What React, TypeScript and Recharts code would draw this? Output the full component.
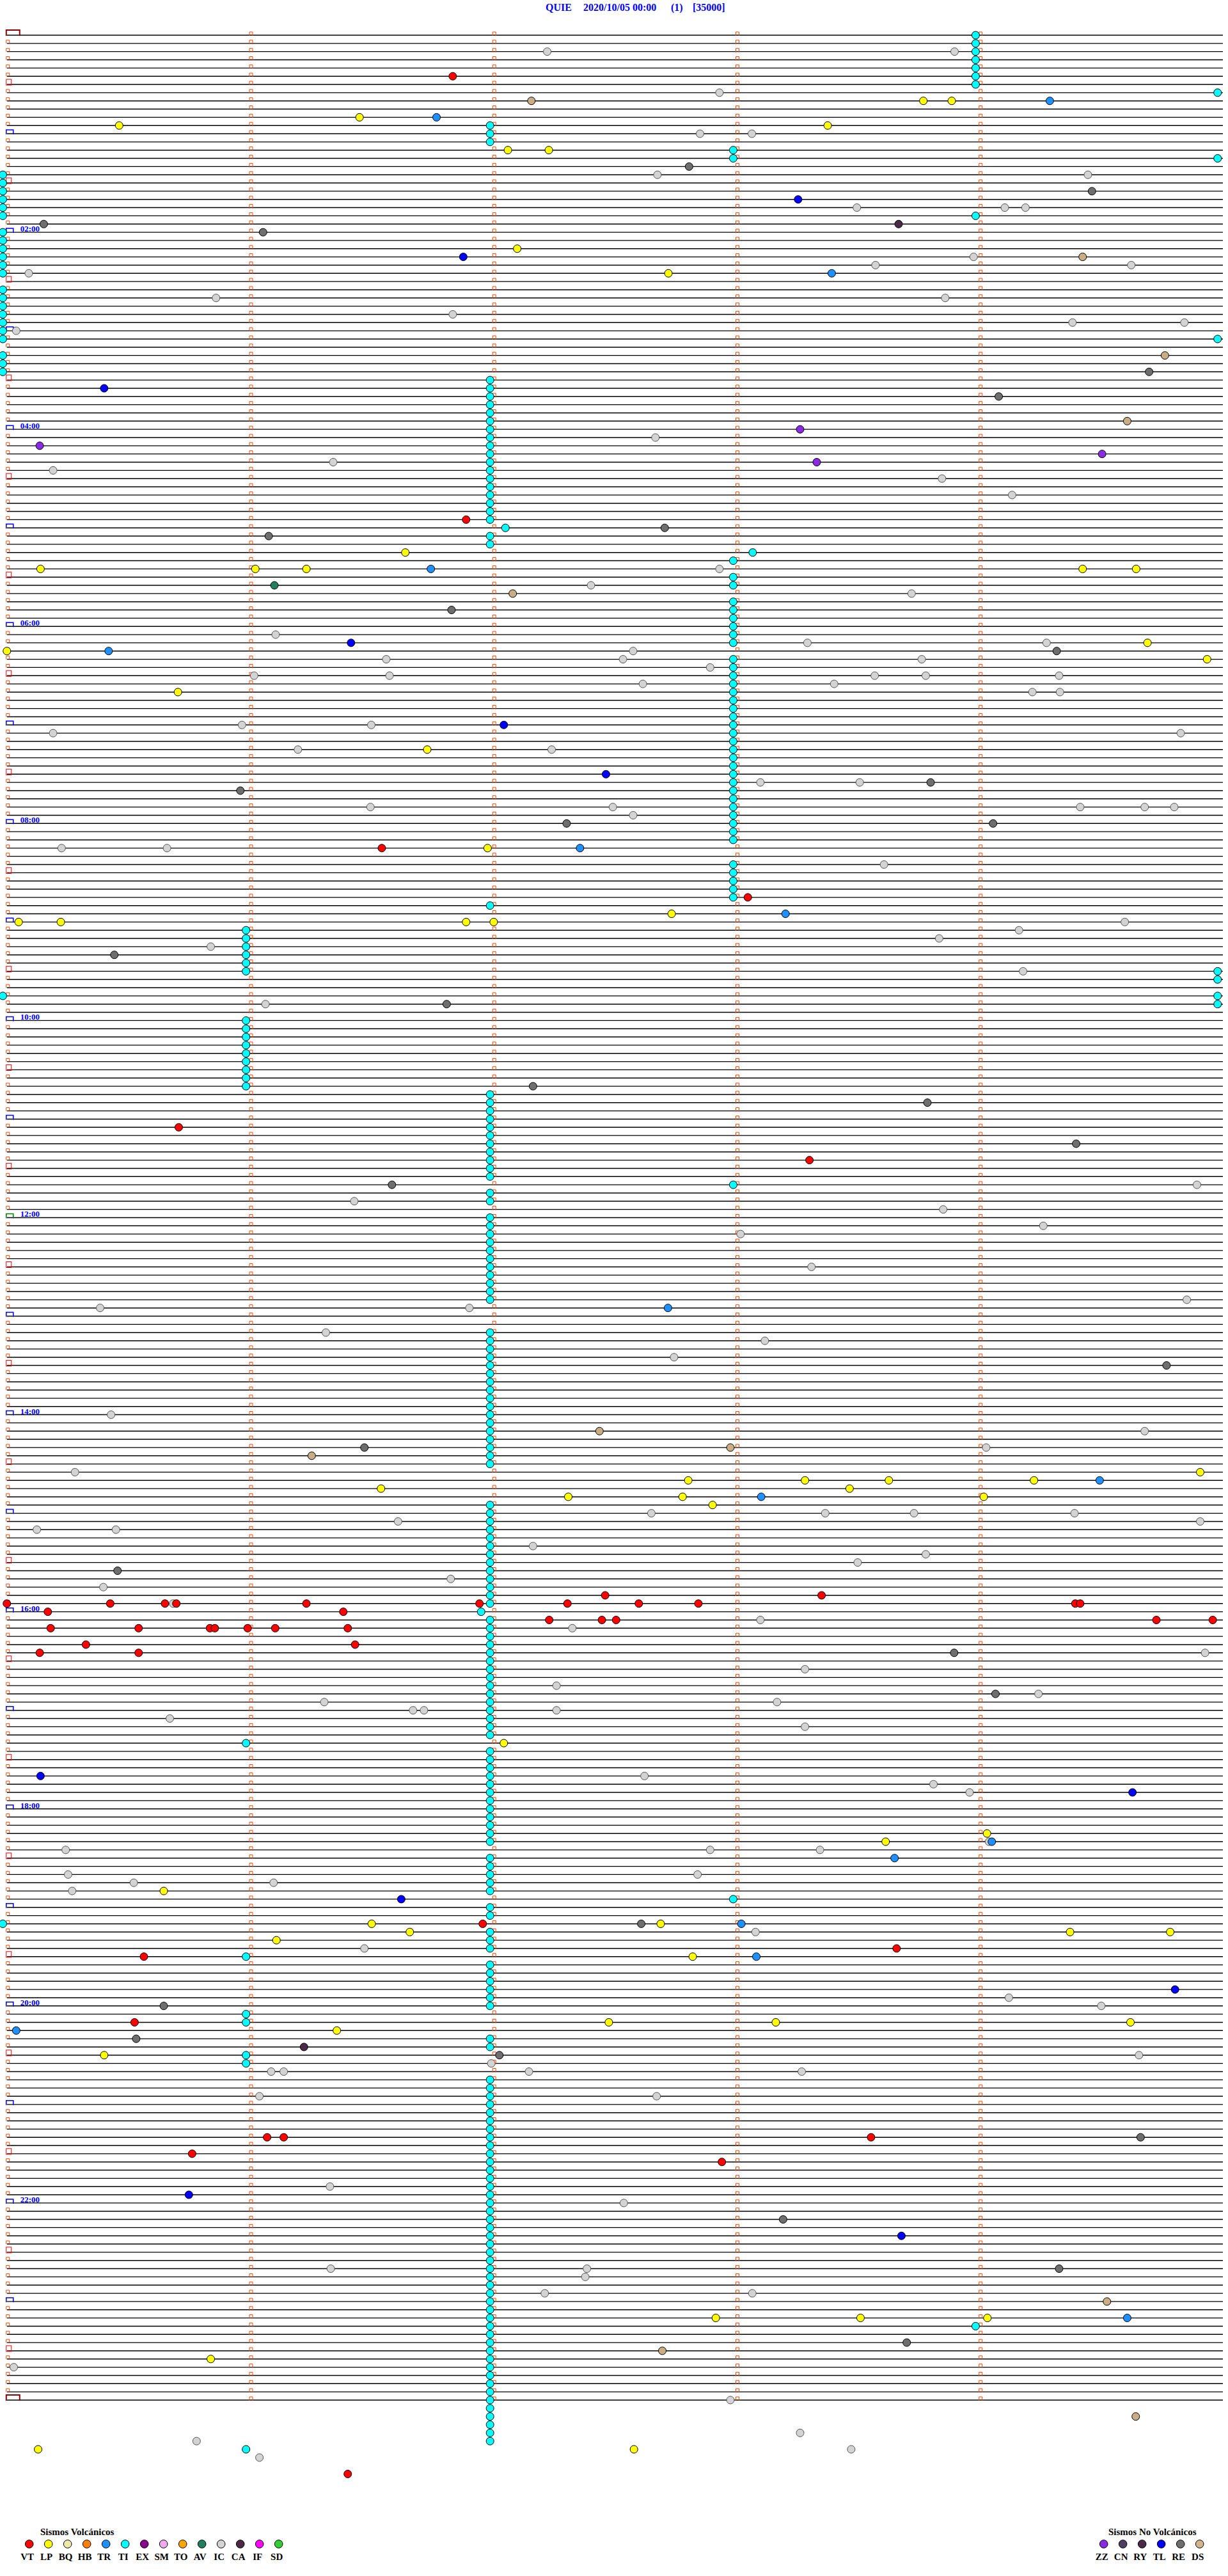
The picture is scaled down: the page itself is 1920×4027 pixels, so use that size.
import { ReferenceLine, Scatter, ScatterChart, XAxis, YAxis } from 'recharts';

// [trace row (5 min each), seconds into the row]
type Pt = [number, number];

const TRACE_ROWS = 289;
const rows = Array.from({ length: TRACE_ROWS }, (_, i) => i);
const minuteMarks = [60, 120, 180, 240];

const hourLabels = [
  { row: 24, text: '02:00' },
  { row: 48, text: '04:00' },
  { row: 72, text: '06:00' },
  { row: 96, text: '08:00' },
  { row: 120, text: '10:00' },
  { row: 144, text: '12:00' },
  { row: 168, text: '14:00' },
  { row: 192, text: '16:00' },
  { row: 216, text: '18:00' },
  { row: 240, text: '20:00' },
  { row: 264, text: '22:00' },
];

const titleParts = [
  { text: 'QUIE', x: 853 },
  { text: '2020/10/05 00:00', x: 912 },
  { text: '(1)', x: 1049 },
  { text: '[35000]', x: 1083 },
];

const volcanicLegend = [
  { code: 'VT', color: '#ff0000' },
  { code: 'LP', color: '#ffff00' },
  { code: 'BQ', color: '#eee8aa' },
  { code: 'HB', color: '#ff8000' },
  { code: 'TR', color: '#1e90ff' },
  { code: 'TI', color: '#00ffff' },
  { code: 'EX', color: '#8b008b' },
  { code: 'SM', color: '#eeaaee' },
  { code: 'TO', color: '#ffa500' },
  { code: 'AV', color: '#1f7f5f' },
  { code: 'IC', color: '#d3d3d3' },
  { code: 'CA', color: '#4a2a48' },
  { code: 'IF', color: '#ff00ff' },
  { code: 'SD', color: '#32cd32' },
];

const nonVolcanicLegend = [
  { code: 'ZZ', color: '#8a2be2' },
  { code: 'CN', color: '#4b3f63' },
  { code: 'RY', color: '#4a2a48' },
  { code: 'TL', color: '#0000ff' },
  { code: 'RE', color: '#6e6e6e' },
  { code: 'DS', color: '#d2b48c' },
];

// tremor (TI) chains, by second within the row
const tiColumns: { sec: number; rows: number[] }[] = [
  { sec: 239, rows: [0, 1, 2, 3, 4, 5, 6, 22, 279] },
  { sec: 298.7, rows: [7, 15, 37, 114, 115, 117, 118] },
  {
    sec: -1,
    rows: [17, 18, 19, 20, 21, 22, 24, 25, 26, 27, 28, 29, 31, 32, 33, 34, 35, 36, 37, 39, 40, 41, 117, 230],
  },
  {
    sec: 179.2,
    rows: [
      14, 15, 64, 66, 67, 69, 70, 71, 72, 73, 74, 76, 77, 78, 79, 80, 81, 82, 83, 84, 85, 86, 87, 88, 89, 90,
      91, 92, 93, 94, 95, 96, 97, 98, 101, 102, 103, 104, 105, 140, 227,
    ],
  },
  { sec: 184, rows: [63] },
  {
    sec: 59,
    rows: [109, 110, 111, 112, 113, 114, 120, 121, 122, 123, 124, 125, 126, 127, 128, 208, 234, 241, 242, 246, 247, 294],
  },
  { sec: 123, rows: [60] },
  { sec: 117, rows: [192] },
  {
    sec: 119.2,
    rows: [
      11, 12, 13, 42, 43, 44, 45, 46, 47, 48, 49, 50, 51, 52, 53, 54, 55, 56, 57, 58, 59, 61, 62, 106, 129, 130,
      131, 132, 133, 134, 135, 136, 137, 138, 139, 141, 142, 144, 145, 146, 147, 148, 149, 150, 151, 152, 153,
      154, 158, 159, 160, 161, 162, 163, 164, 165, 166, 167, 168, 169, 170, 171, 172, 173, 174, 179, 180, 181,
      182, 183, 184, 185, 186, 187, 188, 189, 190, 191, 193, 194, 195, 196, 197, 198, 199, 200, 201, 202, 203,
      204, 205, 206, 207, 209, 210, 211, 212, 213, 214, 215, 216, 217, 218, 219, 220, 222, 223, 224, 225, 226,
      228, 229, 231, 232, 233, 235, 236, 237, 238, 239, 240, 244, 245, 249, 250, 251, 252, 253, 254, 255, 256,
      257, 258, 259, 260, 261, 262, 263, 264, 265, 266, 267, 268, 269, 270, 271, 272, 273, 274, 275, 276, 277,
      278, 279, 280, 281, 282, 283, 284, 285, 286, 287, 288, 289, 290, 291, 292, 293,
    ],
  },
];

const icEvents: Pt[] = [
  [2, 133.3], [2, 233.8], [7, 175.8], [12, 171], [12, 183.8], [17, 160.5], [17, 266.7], [21, 209.7],
  [21, 246.2], [21, 251.3], [27, 238.5], [28, 214.3], [28, 277.4], [29, 5.4], [32, 51.6], [32, 231.5],
  [34, 110], [35, 262.9], [35, 290.5], [36, 2.3], [49, 160], [52, 80.5], [53, 11.4], [54, 230.7], [56, 248],
  [65, 175.8], [67, 144.1], [68, 223.2], [73, 66.3], [74, 197.5], [74, 256.5], [75, 154.5], [76, 93.6],
  [76, 152], [76, 225.7], [77, 173.5], [78, 61], [78, 94.4], [78, 214.1], [78, 226.7], [78, 259.6],
  [79, 156.9], [79, 204.1], [80, 253], [80, 259.8], [84, 58], [84, 89.9], [85, 11.4], [85, 289.6],
  [87, 71.8], [87, 134.4], [91, 185.9], [91, 210.4], [94, 89.7], [94, 149.5], [94, 264.8], [94, 280.7],
  [94, 288], [95, 154.5], [99, 13.5], [99, 39.5], [101, 216.4], [108, 275.8], [109, 249.7], [110, 230],
  [111, 50.3], [114, 250.7], [118, 63.8], [140, 293.6], [142, 85.7], [143, 231], [145, 255.7], [146, 181],
  [150, 198.5], [154, 291.1], [155, 23], [155, 114.1], [158, 78.7], [159, 187], [161, 164.6], [168, 25.7],
  [170, 280.7], [172, 241.6], [175, 16.8], [180, 159], [180, 201.9], [180, 223.8], [180, 263.4], [181, 96.5],
  [181, 294.4], [182, 7.4], [182, 26.9], [184, 129.8], [185, 226.7], [186, 209.9], [188, 109.5], [189, 23.8],
  [191, 41], [193, 185.9], [194, 139.5], [197, 295.6], [199, 196.9], [201, 135.6], [202, 254.5], [203, 78.3],
  [203, 190], [204, 100.2], [204, 102.9], [204, 135.6], [205, 40.2], [206, 196.9], [212, 157.3], [213, 228.6],
  [214, 237.5], [220, 242.3], [221, 14.5], [221, 173.5], [221, 200.6], [224, 15.1], [224, 170.4], [225, 31.3],
  [225, 65.8], [226, 16.1], [231, 184.7], [233, 88.2], [239, 247.2], [240, 270], [246, 279.3], [247, 119.5],
  [248, 65.2], [248, 68.3], [248, 128.8], [248, 196.1], [251, 62.3], [251, 160.3], [262, 79.7], [264, 152.2],
  [272, 79.9], [272, 143.1], [273, 142.7], [275, 132.7], [275, 183.9], [284, 1.7], [288, 178.5], [292, 195.7],
  [293, 46.8], [294, 208.3], [295, 62.3],
];

const vtEvents: Pt[] = [
  [5, 110], [59, 113.3], [99, 92.5], [105, 182.8], [133, 42.4], [137, 198], [190, 147.6], [190, 201],
  [191, 0], [191, 25.5], [191, 39], [191, 41.8], [191, 73.9], [191, 116.6], [191, 138.3], [191, 155.9],
  [191, 170.6], [191, 263.6], [191, 264.8], [192, 10.1], [192, 83], [193, 133.8], [193, 146.8], [193, 150.3],
  [193, 283.6], [193, 297.5], [194, 10.8], [194, 32.5], [194, 50.1], [194, 51.3], [194, 59.4], [194, 66.2],
  [194, 84.1], [196, 19.5], [196, 85.9], [197, 8.1], [197, 32.5], [230, 117.4], [233, 219.5], [234, 33.8],
  [242, 31.5], [256, 64.2], [256, 68.3], [256, 213.2], [258, 45.7], [259, 176.4], [297, 84.1],
];

const lpEvents: Pt[] = [
  [8, 226.1], [8, 233.1], [10, 87], [11, 27.7], [11, 202.5], [14, 123.6], [14, 133.7], [26, 125.9],
  [29, 163.2], [63, 98.3], [65, 8.3], [65, 61.3], [65, 73.9], [65, 265.4], [65, 278.6], [74, 281.4],
  [75, 0], [76, 296.1], [80, 42.2], [87, 103.7], [99, 118.6], [107, 164], [108, 2.9], [108, 13.3],
  [108, 113.3], [108, 120.1], [175, 294.4], [176, 168.1], [176, 196.9], [176, 217.6], [176, 253.4],
  [177, 92.3], [177, 207.9], [178, 138.5], [178, 166.7], [178, 241], [179, 174.1], [208, 122.6], [219, 241.8],
  [220, 216.8], [226, 38.7], [230, 90], [230, 161.3], [231, 99.4], [231, 262.3], [231, 287], [232, 66.5],
  [234, 169.2], [242, 148.5], [242, 189.7], [242, 277.2], [243, 81.4], [246, 24], [278, 174.9], [278, 210.6],
  [278, 241.9], [283, 50.3], [294, 7.7], [294, 154.7],
];

const trEvents: Pt[] = [
  [8, 257.3], [10, 106], [29, 203.5], [65, 104.6], [75, 25.1], [99, 141.4], [107, 192.1], [155, 163.1],
  [176, 269.6], [178, 186.1], [220, 243], [222, 219], [230, 181.2], [234, 184.9], [243, 2.3], [278, 276.4],
];

const tlEvents: Pt[] = [
  [20, 195.2], [27, 112.6], [43, 24], [74, 84.9], [84, 122.6], [90, 147.8], [212, 8.3], [214, 277.7],
  [227, 97.3], [238, 288.2], [263, 44.9], [268, 220.7],
];

const reEvents: Pt[] = [
  [16, 168.3], [19, 267.7], [23, 9.1], [24, 63.2], [41, 281.8], [44, 244.7], [60, 162.3], [61, 64.6],
  [70, 109.7], [75, 259], [91, 227.9], [92, 57.6], [96, 138.1], [96, 243.3], [112, 26.5], [118, 108.5],
  [128, 129.8], [130, 227.1], [135, 263.8], [140, 95], [162, 286.1], [172, 88.2], [187, 27.3], [197, 233.7],
  [202, 243.9], [230, 156.5], [240, 38.7], [244, 31.9], [246, 121.5], [256, 279.7], [266, 191.5],
  [272, 259.6], [281, 222],
];

const zzEvents: Pt[] = [[48, 195.7], [50, 8.1], [51, 270.2], [52, 199.8]];

const dsEvents: Pt[] = [
  [8, 129.4], [27, 265.4], [39, 285.7], [47, 276.4], [68, 124.8], [170, 146.2], [172, 178.5], [173, 75.2],
  [276, 271.4], [282, 161.7], [290, 278.5],
];

const caEvents: Pt[] = [[23, 220], [245, 73.3]];
const avEvents: Pt[] = [[67, 66]];

const toPoints = (list: Pt[]) => list.map(([row, sec]) => ({ x: sec, y: row }));

const tiEvents: Pt[] = tiColumns.flatMap((col) => col.rows.map((row) => [row, col.sec] as Pt));

const eventSeries = [
  { code: 'IC', fill: '#d3d3d3', stroke: '#555', data: icEvents },
  { code: 'TI', fill: '#00ffff', stroke: '#000', data: tiEvents },
  { code: 'VT', fill: '#ff0000', stroke: '#000', data: vtEvents },
  { code: 'LP', fill: '#ffff00', stroke: '#000', data: lpEvents },
  { code: 'TR', fill: '#1e90ff', stroke: '#000', data: trEvents },
  { code: 'TL', fill: '#0000ff', stroke: '#000', data: tlEvents },
  { code: 'RE', fill: '#6e6e6e', stroke: '#000', data: reEvents },
  { code: 'ZZ', fill: '#8a2be2', stroke: '#000', data: zzEvents },
  { code: 'DS', fill: '#c9ad84', stroke: '#000', data: dsEvents },
  { code: 'CA', fill: '#4a2a48', stroke: '#000', data: caEvents },
  { code: 'AV', fill: '#1f7f5f', stroke: '#000', data: avEvents },
];

const rowMarks = rows.map((row) => ({
  x: 0,
  y: row,
  kind: row === 0 || row === TRACE_ROWS - 1 ? 'edge' : row % 12 === 0 ? 'hour' : row % 12 === 6 ? 'half' : 'tick',
  label: hourLabels.find((h) => h.row === row)?.text,
}));

const minuteTicks = rows.flatMap((row) => minuteMarks.map((sec) => ({ x: sec, y: row })));

const serif = '"Liberation Serif", "DejaVu Serif", serif';

function RowMark(props: any) {
  const { cx, cy, payload } = props;
  if (payload.kind === 'edge') {
    return (
      <path d={`M${cx - 1},${cy + 1}V${cy - 8}H${cx + 20}V${cy + 1}`} fill="none" stroke="#8b0000" strokeWidth={2} />
    );
  }
  if (payload.kind === 'half') {
    return <rect x={cx - 1} y={cy - 8} width={8} height={9} fill="none" stroke="#ff0000" strokeWidth={1} />;
  }
  if (payload.kind === 'hour') {
    const color = payload.y === 144 ? '#008000' : '#0000ff';
    return (
      <g>
        <path d={`M${cx - 1},${cy + 1}V${cy - 6}H${cx + 10}V${cy + 1}`} fill="none" stroke={color} strokeWidth={1.5} />
        {payload.label ? (
          <text x={cx + 21} y={cy - 1} fontFamily={serif} fontSize={13} fontWeight="bold" fill="#0000ff">
            {payload.label}
          </text>
        ) : null}
      </g>
    );
  }
  return <path d={`M${cx - 1},${cy}V${cy - 5}H${cx + 4}V${cy}`} fill="none" stroke="#ff4500" strokeWidth={1} />;
}

function MinuteTick(props: any) {
  const { cx, cy } = props;
  return <path d={`M${cx - 1},${cy + 1}V${cy - 5}H${cx + 4}V${cy + 1}`} fill="none" stroke="#ff4500" strokeWidth={1} />;
}

const eventShape = (fill: string, stroke: string) => (props: any) => (
  <circle cx={props.cx} cy={props.cy} r={6} fill={fill} stroke={stroke} strokeWidth={1} />
);

function LegendRow({ items, x0, title, titleX }: { items: { code: string; color: string }[]; x0: number; title: string; titleX: number }) {
  return (
    <g>
      <text x={titleX} y={3963} fontFamily={serif} fontSize={15} fontWeight="bold" fill="#000">
        {title}
      </text>
      {items.map((item, i) => (
        <g key={item.code}>
          <circle cx={x0 + i * 30} cy={3977} r={6.3} fill={item.color} stroke="#000" strokeWidth={1} />
          <text
            x={x0 + i * 30 - 3}
            y={4002}
            textAnchor="middle"
            fontFamily={serif}
            fontSize={15}
            fontWeight="bold"
            fill="#000"
          >
            {item.code}
          </text>
        </g>
      ))}
    </g>
  );
}

export default function App() {
  return (
    <div style={{ position: 'absolute', left: 0, top: 0, width: 1920, height: 4027, background: '#fff' }}>
      <div style={{ position: 'absolute', left: 0, top: 0 }}>
        <ScatterChart width={1920} height={4027} margin={{ top: 55, right: 8, bottom: 121, left: 0 }}>
          <XAxis type="number" dataKey="x" domain={[-1.7, 300]} hide />
          <YAxis type="number" dataKey="y" domain={[0, 300]} reversed hide />
          {rows.map((row) => (
            <ReferenceLine
              key={`trace-${row}`}
              segment={[
                { x: 0, y: row },
                { x: 300, y: row },
              ]}
              stroke="#000"
              strokeWidth={1.4}
            />
          ))}
          <Scatter data={minuteTicks} shape={MinuteTick} isAnimationActive={false} />
          <Scatter data={rowMarks} shape={RowMark} isAnimationActive={false} />
          {eventSeries.map((s) => (
            <Scatter
              key={s.code}
              name={s.code}
              data={toPoints(s.data)}
              shape={eventShape(s.fill, s.stroke)}
              isAnimationActive={false}
            />
          ))}
        </ScatterChart>
      </div>
      <svg width={1920} height={4027} style={{ position: 'absolute', left: 0, top: 0, pointerEvents: 'none' }}>
        {titleParts.map((p) => (
          <text key={p.text} x={p.x} y={17} fontFamily={serif} fontSize={16} fontWeight="bold" fill="#0000ff">
            {p.text}
          </text>
        ))}
        <LegendRow items={volcanicLegend} x0={45.7} title="Sismos Volcánicos" titleX={63} />
        <LegendRow items={nonVolcanicLegend} x0={1725.7} title="Sismos No Volcánicos" titleX={1733} />
      </svg>
    </div>
  );
}
